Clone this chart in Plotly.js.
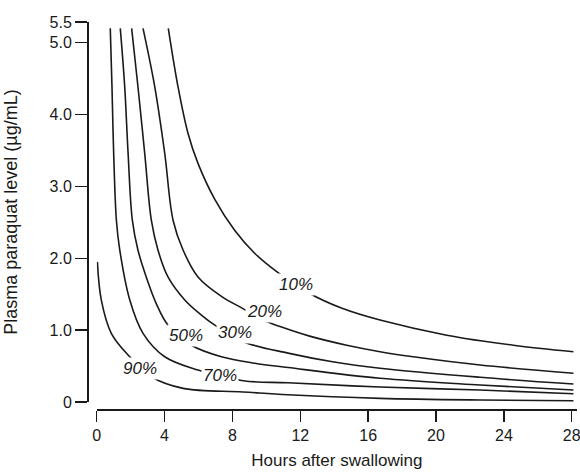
<!DOCTYPE html>
<html>
<head>
<meta charset="utf-8">
<script src="https://cdn.plot.ly/plotly-3.0.1.min.js"></script>
<style>html,body{margin:0;padding:0;background:#fff;}#chart{width:580px;height:476px;}</style>
</head>
<body>
<div id="chart"></div>
<script>
// Survival curves: plasma paraquat level vs hours after swallowing
const curveNames = ["10%", "20%", "30%", "50%", "70%", "90%"];

const hours10 = [4.22, 4.79, 5.38, 5.97, 6.96, 8.13, 9.31, 10.69, 12.47, 14.5, 16.7, 20.63, 24.56, 28.1];
const level10 = [5.20, 4.39, 3.74, 3.32, 2.82, 2.39, 2.07, 1.80, 1.52, 1.30, 1.14, 0.93, 0.79, 0.70];

const hours20 = [2.73, 3.42, 4.01, 4.50, 5.09, 5.97, 7.35, 8.62, 9.80, 10.81, 12.5, 14.74, 16.7, 18.66, 22.6, 28.1];
const level20 = [5.20, 4.39, 3.46, 2.53, 2.115, 1.74, 1.47, 1.30, 1.14, 1.05, 0.92, 0.79, 0.70, 0.63, 0.515, 0.40];

const hours30 = [2.06, 2.43, 2.83, 3.22, 3.61, 4.20, 5.19, 6.17, 6.96, 8.62, 11.28, 13.9, 16.7, 22.6, 28.1];
const level30 = [5.20, 4.39, 3.46, 2.53, 2.115, 1.74, 1.42, 1.21, 1.07, 0.84, 0.68, 0.56, 0.469, 0.344, 0.25];

const hours50 = [1.39, 1.65, 1.85, 2.10, 2.43, 2.92, 3.51, 4.20, 5.58, 7.35, 9.31, 11.28, 16.7, 22.6, 28.1];
const level50 = [5.20, 4.39, 3.46, 2.53, 2.115, 1.74, 1.37, 1.07, 0.79, 0.63, 0.54, 0.48, 0.33, 0.237, 0.167];

const hours70 = [0.80, 0.90, 1.00, 1.16, 1.36, 1.95, 2.73, 4.01, 5.97, 8.64, 11.28, 16.7, 22.6, 28.1];
const level70 = [5.20, 4.39, 3.46, 2.53, 2.115, 1.42, 0.956, 0.63, 0.445, 0.296, 0.267, 0.209, 0.167, 0.115];

const hours90 = [0.04, 0.27, 0.86, 1.85, 3.22, 5.1, 8.62, 11.28, 16.7, 22.6, 28.1];
const level90 = [1.95, 1.42, 0.956, 0.654, 0.352, 0.19, 0.14, 0.10, 0.051, 0.028, 0.018];

// curve label anchor points (hours, level)
const labelHours = [11.75, 9.88, 8.15, 5.26, 7.27, 2.58];
const labelLevels = [1.63, 1.255, 0.967, 0.925, 0.369, 0.466];

const xTickVals = [0, 4, 8, 12, 16, 20, 24, 28];
const xTickText = ["0", "4", "8", "12", "16", "20", "24", "28"];
const yTickVals = [0, 1, 2, 3, 4, 5, 5.288];
const yTickText = ["0", "1.0", "2.0", "3.0", "4.0", "5.0", "5.5"];

const xTitle = "Hours after swallowing";
const yTitle = "Plasma paraquat level (\u00b5g/mL)";

const hoursAll = [hours10, hours20, hours30, hours50, hours70, hours90];
const levelsAll = [level10, level20, level30, level50, level70, level90];

const FONT = "Liberation Sans, Arial, Helvetica, sans-serif";
const INK = "#1a1a1a";

const traces = curveNames.map((name, i) => ({
  type: "scatter",
  mode: "lines",
  name: name,
  x: hoursAll[i],
  y: levelsAll[i],
  line: {color: INK, width: 1.6, shape: "spline", smoothing: 1},
  hoverinfo: "skip"
}));

const annotations = curveNames.map((name, i) => ({
  x: labelHours[i],
  y: labelLevels[i],
  xref: "x",
  yref: "y",
  text: "<i>" + name + "</i>",
  showarrow: false,
  bgcolor: "#ffffff",
  borderpad: 1,
  font: {family: FONT, size: 17, color: INK}
}));

const layout = {
  width: 580,
  height: 476,
  margin: {l: 88, r: 3, t: 22, b: 66, pad: 0},
  paper_bgcolor: "#ffffff",
  plot_bgcolor: "#ffffff",
  showlegend: false,
  font: {family: FONT, size: 16, color: INK},
  xaxis: {
    range: [0, 28.31],
    domain: [0.0178, 1],
    anchor: "free",
    position: 0,
    showgrid: false,
    zeroline: false,
    showline: true,
    linecolor: INK,
    linewidth: 2,
    ticks: "outside",
    ticklen: 11,
    tickwidth: 1.5,
    tickcolor: INK,
    tickvals: xTickVals,
    ticktext: xTickText,
    ticklabeloverflow: "allow",
    tickfont: {family: FONT, size: 16, color: INK},
    automargin: false,
    title: {text: xTitle, font: {family: FONT, size: 17, color: INK}, standoff: 10}
  },
  yaxis: {
    range: [0, 5.288],
    domain: [0.0206, 1],
    anchor: "free",
    position: 0,
    showgrid: false,
    zeroline: false,
    showline: true,
    linecolor: INK,
    linewidth: 2,
    ticks: "outside",
    ticklen: 12,
    tickwidth: 1.5,
    tickcolor: INK,
    tickvals: yTickVals,
    ticktext: yTickText,
    tickfont: {family: FONT, size: 16, color: INK},
    automargin: false,
    title: {text: yTitle, font: {family: FONT, size: 18, color: INK}, standoff: 26}
  },
  annotations: annotations
};

Plotly.newPlot("chart", traces, layout, {displayModeBar: false, staticPlot: true});
</script>
</body>
</html>
